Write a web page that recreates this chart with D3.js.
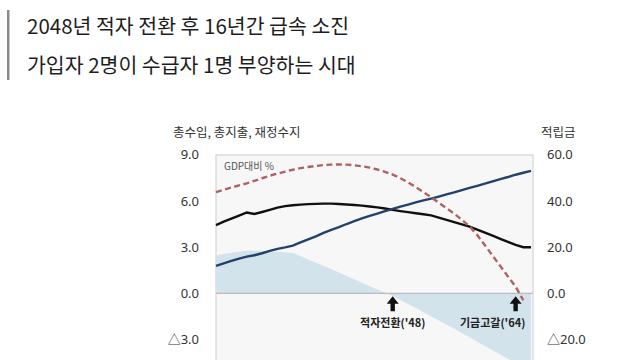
<!DOCTYPE html>
<html><head><meta charset="utf-8">
<script src="https://cdn.jsdelivr.net/npm/d3@7/dist/d3.min.js"></script>
<style>
html,body{margin:0;padding:0;background:#fff;}
svg{display:block;font-family:"Noto Sans CJK KR","Noto Sans",sans-serif;}
</style></head>
<body>
<svg id="c" width="640" height="360"></svg>
<script>
const titleLines = ["2048년 적자 전환 후 16년간 급속 소진", "가입자 2명이 수급자 1명 부양하는 시대"];
const leftAxisTitle = "총수입, 총지출, 재정수지";
const rightAxisTitle = "적립금";
const unitNote = "GDP대비 %";
const years = d3.range(2025, 2067);
const revenue = [4.43,4.65,4.85,5.05,5.25,5.15,5.28,5.42,5.56,5.66,5.72,5.76,5.79,5.81,5.82,5.82,5.8,5.77,5.73,5.69,5.64,5.58,5.51,5.42,5.34,5.27,5.2,5.13,5.06,4.92,4.77,4.62,4.47,4.33,4.14,3.94,3.74,3.54,3.34,3.14,2.99,2.99];
const expenditure = [1.78,1.95,2.1,2.25,2.38,2.47,2.6,2.76,2.88,2.98,3.1,3.3,3.5,3.7,3.92,4.12,4.3,4.5,4.68,4.86,5.03,5.18,5.33,5.48,5.63,5.76,5.9,6.03,6.15,6.28,6.42,6.55,6.7,6.84,6.98,7.12,7.27,7.42,7.55,7.7,7.83,7.95];
const balance = [2.45,2.55,2.63,2.7,2.76,2.77,2.75,2.72,2.7,2.67,2.62,2.41,2.2,1.99,1.78,1.57,1.35,1.13,0.91,0.69,0.47,0.25,0.06,-0.17,-0.43,-0.69,-0.96,-1.23,-1.5,-1.77,-2.04,-2.31,-2.58,-2.86,-3.14,-3.42,-3.7,-3.98,-4.26,-4.53,-4.8,-5.07];
const fundYears = d3.range(2025, 2066);
const fund = [43.8,44.8,45.8,46.7,47.6,48.7,49.8,50.9,51.8,52.7,53.5,54.2,54.7,55.1,55.5,55.7,55.8,55.7,55.4,55.0,54.4,53.6,52.6,51.4,49.8,48.0,46.0,43.8,41.6,39.2,36.8,34.5,31.8,29.0,25.2,20.8,16.3,11.8,7.3,2.9,-3.0];
const leftTicks = [9, 6, 3, 0, -3];
const rightTicks = [60, 40, 20, 0, -20];
const markers = [{year: 2048, label: "적자전환('48)", lx: 0}, {year: 2064, label: "기금고갈('64)", lx: -23}];

const svg = d3.select("#c");
const plot = {l: 216, r: 533, t: 155, b: 386};
const x = d3.scaleLinear().domain([2025, 2066]).range([216, 531]);
const yL = d3.scaleLinear().domain([-6, 9]).range([385.7, 154.7]);
const yR = d3.scaleLinear().domain([-40, 60]).range([385.7, 154.7]);
const fmtL = v => (v < 0 ? "△" : "") + Math.abs(v).toFixed(1);

// title
svg.append("rect").attr("x", 7).attr("y", 10).attr("width", 2.5).attr("height", 70).attr("fill", "#8a8a8a");
svg.selectAll("text.title").data(titleLines).join("text").attr("class","title")
  .attr("x", 27).attr("y", (d,i) => 34 + i*38.5)
  .attr("font-size", 20.5).attr("fill", "#1e1e1e").text(d => d);

// plot background
svg.append("rect").attr("x", plot.l).attr("y", plot.t).attr("width", plot.r-plot.l).attr("height", plot.b-plot.t)
  .attr("fill", "#f7f7f7").attr("stroke", "#d4d4d4").attr("stroke-width", 1.2);

const g = svg.append("g");
// area
g.append("path").datum(years.map((yr,i)=>[yr, balance[i]]))
  .attr("d", d3.area().x(d=>x(d[0])).y0(yL(0)).y1(d=>yL(d[1])))
  .attr("fill", "#d3e3ec");
// zero line
g.append("line").attr("x1", plot.l).attr("x2", plot.r).attr("y1", yL(0)).attr("y2", yL(0))
  .attr("stroke", "#b8bcc0").attr("stroke-width", 1.2);

const line = d3.line().x(d=>x(d[0])).y(d=>d[1]);
g.append("path").datum(years.map((yr,i)=>[yr, yL(revenue[i])])).attr("d", line)
  .attr("fill","none").attr("stroke","#111").attr("stroke-width",2.4);
g.append("path").datum(years.map((yr,i)=>[yr, yL(expenditure[i])])).attr("d", line)
  .attr("fill","none").attr("stroke","#23426b").attr("stroke-width",2.4);
g.append("path").datum(fundYears.map((yr,i)=>[yr, yR(fund[i])])).attr("d", line)
  .attr("fill","none").attr("stroke","#b06262").attr("stroke-width",2.4).attr("stroke-dasharray","6,3.5");

// unit note
svg.append("text").attr("x", 224).attr("y", 170).attr("font-size", 10).attr("fill", "#555").text(unitNote);

// axes titles
svg.append("text").attr("x", 173).attr("y", 137).attr("font-size", 12.5).attr("fill", "#333").text(leftAxisTitle);
svg.append("text").attr("x", 541).attr("y", 137).attr("font-size", 12.5).attr("fill", "#333").text(rightAxisTitle);

// ticks
const axL = d3.axisLeft(yL).tickValues(leftTicks).tickFormat(fmtL).tickSize(0).tickPadding(0);
const gl = svg.append("g").attr("transform", "translate(199,0)").call(axL);
gl.select(".domain").remove();
gl.selectAll("text").attr("font-size", 13).attr("fill", "#333").attr("font-family", "'Noto Sans','Noto Sans CJK KR',sans-serif");
const axR = d3.axisRight(yR).tickValues(rightTicks).tickFormat(fmtL).tickSize(0).tickPadding(0);
const gr = svg.append("g").attr("transform", "translate(547,0)").call(axR);
gr.select(".domain").remove();
gr.selectAll("text").attr("font-size", 13).attr("fill", "#333").attr("font-family", "'Noto Sans','Noto Sans CJK KR',sans-serif");

// markers
markers.forEach(m => {
  const cx = x(m.year), ty = yL(0) + 3;
  svg.append("path")
    .attr("d", `M${cx},${ty} L${cx+6},${ty+7.5} L${cx+2.2},${ty+7.5} L${cx+2.2},${ty+15} L${cx-2.2},${ty+15} L${cx-2.2},${ty+7.5} L${cx-6},${ty+7.5} Z`)
    .attr("fill", "#111");
  svg.append("text").attr("x", cx + m.lx).attr("y", yL(0) + 34).attr("text-anchor", "middle")
    .attr("font-size", 11).attr("font-weight", "bold").attr("fill", "#222").text(m.label);
});
</script>
</body></html>
